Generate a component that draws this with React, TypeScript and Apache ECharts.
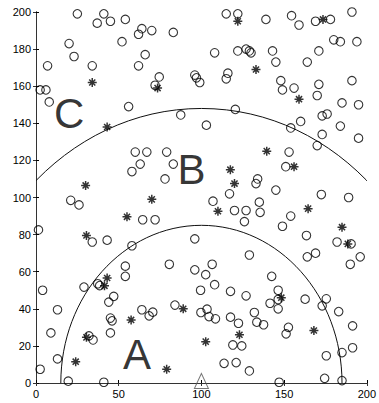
import React, { useEffect, useRef } from "react";
import * as echarts from "echarts";

// Open-circle observations (x, y)
const circles: number[][] = [
  [25, 199], [41, 199], [37, 194], [45, 195], [54, 196], [20, 183], [52, 184], [23, 176], [7, 171], [34, 171],
  [2.5, 158], [6, 158], [8, 151.5], [56, 149],
  [64, 191], [62, 188], [70, 190], [83, 189], [115, 199], [122, 199], [66, 177], [62, 171], [108, 178], [122, 179],
  [127, 180], [129, 179], [130, 178], [74.5, 165], [72, 160.5], [96, 166], [97, 164.5], [99, 162], [116, 167], [115, 164],
  [87.5, 144.5], [120.5, 147.5], [103, 139],
  [139, 196], [154.5, 198], [159, 193], [169, 195], [178, 196], [191, 200], [180, 185], [184, 184], [194, 184],
  [143, 179], [145, 173], [164, 173], [171, 179], [148, 163], [149, 158], [156, 159], [171, 161], [170, 155], [191, 163],
  [185, 151], [195, 150], [173, 144], [176, 145], [160, 141], [154, 137.5], [184, 138.5], [173, 134], [195, 132],
  [58, 114], [21, 98.5], [26, 96], [1.5, 82.5], [34, 76], [43, 77], [58, 74], [54, 63], [54, 57.5],
  [60, 124.5], [67, 124.5], [79, 124.5], [63, 118], [83, 118], [78, 110], [107, 98], [117, 102], [120, 93], [127, 93],
  [126, 87], [64.5, 88], [72, 88], [96, 77.7], [80.6, 64], [96, 61], [106.5, 64], [129, 69], [134, 110], [133, 107.5],
  [170, 128], [153, 124.5], [151, 116.6], [145, 104], [172.5, 101.6], [189, 100], [135, 97.5], [135.5, 92], [154, 90],
  [149, 84.5], [163.5, 79.5], [182, 76], [190.5, 75], [164, 68], [169, 70], [190, 64], [196, 68],
  [4, 50], [29, 51.7], [37.3, 53.5], [38.5, 52.5], [13, 39.5], [47, 46.7], [44, 43.6], [9, 27], [45, 35], [46, 33.5],
  [45, 27], [32, 25.4], [34.5, 23.2], [13, 13], [2.5, 7.4], [19.5, 1], [41, 0.4],
  [102.6, 58.4], [99.5, 50], [108, 53], [117.6, 49.4], [127, 47], [64, 39.5], [68.4, 36.2], [70.6, 38.2], [84, 42],
  [99.7, 38], [103.4, 39.8], [104.6, 35.8], [108.5, 34.6], [117.6, 35.5], [122.4, 32.2], [119, 20.5], [124.4, 20],
  [113.7, 10.6], [121, 11], [129, 6.5],
  [142.5, 57.5], [146.4, 50], [146.4, 45], [141.5, 43], [146.4, 40], [162.7, 45.2], [175.5, 45.4], [173, 41.6],
  [183, 38.5], [132, 38], [133.5, 32.8], [137.6, 31.4], [152.6, 30], [151.2, 26.5], [191.4, 30.8], [191.4, 19],
  [185, 16.4], [175.5, 14.7], [147, 0.4], [174.5, 2.5], [185, 1.3],
];

// Asterisk observations (x, y)
const stars: number[][] = [
  [34, 162], [43, 138], [122, 195], [73.5, 159], [173.5, 196], [133, 169], [159, 153], [30, 106.5], [55, 89.6],
  [30.5, 79.5], [117.5, 115], [120, 107.5], [70, 99], [110, 92.6], [139.5, 125], [156, 116.6], [164.5, 94], [185, 84],
  [188.5, 75], [43, 56.6], [41.4, 52.4], [30.5, 24.6], [24, 11.5], [57.5, 34], [89, 40], [102.6, 22.3], [123, 26],
  [79, 7.4], [148.3, 46], [168, 28.3],
];

// Source location (triangle)
const source: number[][] = [[100, 0]];

// Zone boundaries: centre and radii
const zoneCenter = [100, 0];
const zoneRadii = [85, 148];

// Zone labels
const zoneLabels: [number, number, string][] = [
  [20, 145.3, "C"],
  [94, 115, "B"],
  [61, 15.3, "A"],
];

const xMin = 0, xMax = 200, xStep = 50;
const yMin = 0, yMax = 200, yStep = 20;

const starPath =
  "path://M5,0L5,10M0,5L10,5M1.6,1.6L8.4,8.4M1.6,8.4L8.4,1.6";

export default function App() {
  const ref = useRef<HTMLDivElement>(null);
  useEffect(() => {
    if (!ref.current) return;
    const chart = echarts.init(ref.current, null, { renderer: "svg" });
    const axisLine = { show: true, lineStyle: { color: "#000", width: 1 } };
    const labelStyle = { color: "#000", fontSize: 11, fontFamily: "Liberation Sans, Arial, sans-serif" };
    chart.setOption({
      animation: false,
      backgroundColor: "#fff",
      grid: { left: 36, right: 2, top: 12, bottom: 20, containLabel: false },
      xAxis: [
        {
          type: "value", min: xMin, max: xMax, interval: xStep, position: "bottom",
          axisLine, axisTick: { show: true, inside: true, length: 3, lineStyle: { color: "#000" } },
          axisLabel: { ...labelStyle, margin: 5 }, splitLine: { show: false },
        },
        {
          type: "value", min: xMin, max: xMax, interval: xStep, position: "top",
          axisLine: { show: true, lineStyle: { color: "#333", width: 1 } },
          axisTick: { show: true, inside: true, length: 3, lineStyle: { color: "#333" } },
          axisLabel: { show: false }, splitLine: { show: false },
        },
      ],
      yAxis: [
        {
          type: "value", min: yMin, max: yMax, interval: yStep, position: "left",
          axisLine, axisTick: { show: true, inside: true, length: 3, lineStyle: { color: "#000" } },
          axisLabel: { ...labelStyle, margin: 5 }, splitLine: { show: false },
        },
        {
          type: "value", min: yMin, max: yMax, interval: yStep, position: "right",
          axisLine: { show: true, lineStyle: { color: "#333", width: 1 } },
          axisTick: { show: true, inside: true, length: 3, lineStyle: { color: "#333" } },
          axisLabel: { show: false }, splitLine: { show: false },
        },
      ],
      series: [
        {
          type: "custom",
          name: "zones",
          clip: true,
          silent: true,
          data: zoneRadii.map((r) => [zoneCenter[0], zoneCenter[1], r]),
          renderItem: (params: any, api: any) => {
            const cx = api.value(0), cy = api.value(1), r = api.value(2);
            const c = api.coord([cx, cy]);
            const e = api.coord([cx + r, cy + r]);
            return {
              type: "ellipse",
              shape: { cx: c[0], cy: c[1], rx: e[0] - c[0], ry: c[1] - e[1] },
              style: { fill: "none", stroke: "#111", lineWidth: 1 },
            };
          },
          z: 1,
        },
        {
          type: "scatter",
          name: "circles",
          data: circles,
          symbol: "circle",
          symbolSize: 8.5,
          clip: false,
          itemStyle: { color: "rgba(0,0,0,0)", borderColor: "#000", borderWidth: 1.1 },
          z: 3,
        },
        {
          type: "scatter",
          name: "stars",
          data: stars,
          symbol: starPath,
          symbolSize: 9,
          clip: false,
          itemStyle: { color: "rgba(0,0,0,0)", borderColor: "#000", borderWidth: 1.5 },
          z: 4,
        },
        {
          type: "scatter",
          name: "source",
          data: source,
          symbol: "triangle",
          symbolSize: [14, 15],
          symbolOffset: [0, -2],
          clip: false,
          itemStyle: { color: "rgba(0,0,0,0)", borderColor: "#555", borderWidth: 1 },
          z: 4,
        },
        {
          type: "scatter",
          name: "labels",
          data: zoneLabels.map((d) => ({ value: [d[0], d[1]], name: d[2] })),
          symbolSize: 1,
          itemStyle: { color: "rgba(0,0,0,0)" },
          silent: true,
          label: {
            show: true,
            position: "inside",
            formatter: (p: any) => p.name,
            fontSize: 42,
            fontFamily: "Liberation Sans, Arial, sans-serif",
            color: "#000",
          },
          z: 5,
        },
      ],
    });
    return () => chart.dispose();
  }, []);
  return <div ref={ref} style={{ width: 379, height: 403, position: "absolute", left: 0, top: 0 }} />;
}
